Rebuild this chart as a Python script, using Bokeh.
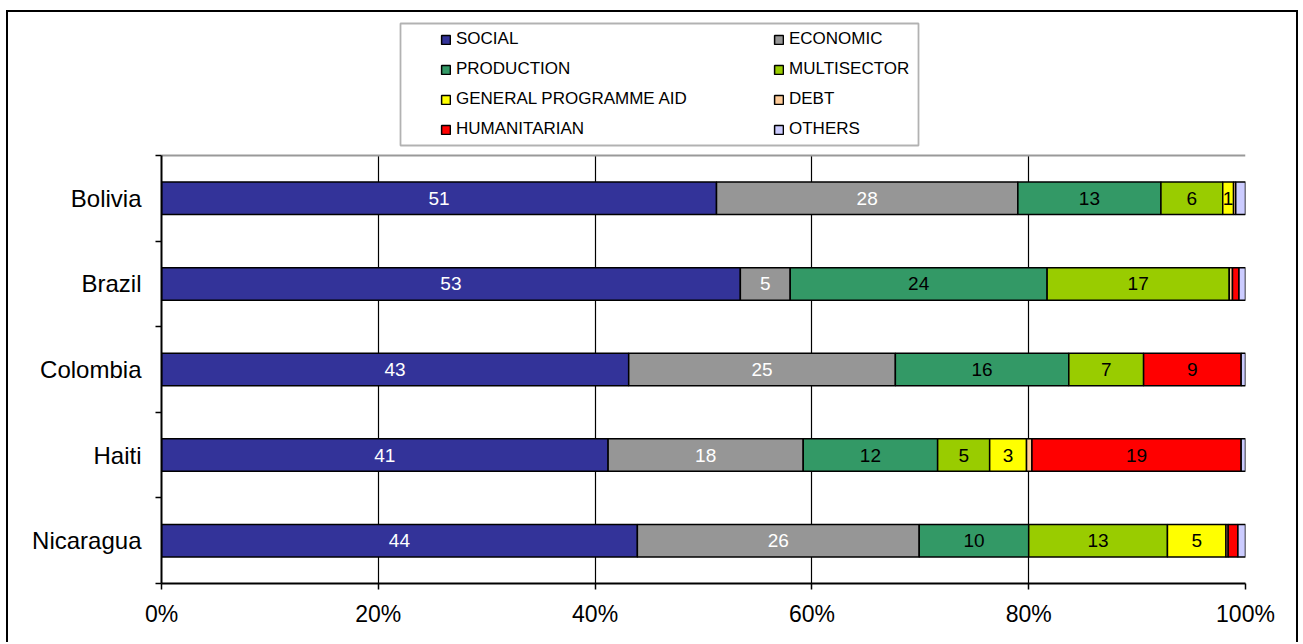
import numpy as np
from bokeh.plotting import figure
from bokeh.models import (ColumnDataSource, Range1d, FixedTicker, PrintfTickFormatter,
                          Legend, LegendItem, InlineStyleSheet, Grid, BoxAnnotation)
from bokeh.core.properties import value
from bokeh.embed import file_html
from bokeh.resources import INLINE

# ---------------- data ----------------
countries = ["Bolivia", "Brazil", "Colombia", "Haiti", "Nicaragua"]
sectors = ["SOCIAL", "ECONOMIC", "PRODUCTION", "MULTISECTOR",
           "GENERAL PROGRAMME AID", "DEBT", "HUMANITARIAN", "OTHERS"]
social = [51.2, 53.4, 43.1, 41.2, 43.9]
economic = [27.8, 4.6, 24.6, 18.0, 26.0]
production = [13.2, 23.7, 16.0, 12.4, 10.1]
multisector = [5.7, 16.8, 6.9, 4.8, 12.8]
general_programme_aid = [1.0, 0.0, 0.0, 3.4, 5.4]
debt = [0.2, 0.3, 0.0, 0.5, 0.2]
humanitarian = [0.0, 0.6, 9.0, 19.3, 0.9]
others = [0.9, 0.6, 0.4, 0.4, 0.7]
x_ticks = [0, 20, 40, 60, 80, 100]

series = [social, economic, production, multisector,
          general_programme_aid, debt, humanitarian, others]

# ---------------- styles / layout ----------------
colors = ["#333399", "#969696", "#339966", "#99CC00",
          "#FFFF00", "#FFCC99", "#FF0000", "#CCCCFF"]
label_colors = ["white", "white", "black", "black",
                "black", "black", "black", "black"]
FONT = "Liberation Sans"

W, H = 1300, 642
BORDER_L, BORDER_R, BORDER_T, BORDER_B = 161, 55, 14, 59
BAR_AREA_PX = 428                      # height of the bar area in pixels
n = len(countries)
frame_h = H - BORDER_T - BORDER_B
y_top = n * frame_h / BAR_AREA_PX      # extra room above the bars for the legend
ys = np.array([n - 1 - i + 0.5 for i in range(n)])

p = figure(width=W, height=H, output_backend="svg", toolbar_location=None,
           x_range=Range1d(0, 100), y_range=Range1d(0, y_top),
           min_border_left=BORDER_L, min_border_right=BORDER_R,
           min_border_top=BORDER_T, min_border_bottom=BORDER_B)
p.background_fill_color = "white"
p.border_fill_color = "white"
p.outline_line_color = None

# outer chart border (drawn by CSS around the figure area)
p.stylesheets = [InlineStyleSheet(css=(
    ":host { position: relative; }"
    ":host::after { content: ''; position: absolute; left: 6px; top: 10px; "
    "right: 2px; bottom: 0px; border: 2px solid black; border-bottom: none; "
    "pointer-events: none; box-sizing: border-box; }"))]

cum = np.zeros(n)
renderers = []
lx, ly, lt, lc = [], [], [], []
for s, vals, col, tcol in zip(sectors, series, colors, label_colors):
    v = np.array(vals, dtype=float)
    left = cum.copy()
    right = cum + v
    mask = v > 0
    src = ColumnDataSource(dict(y=ys[mask], left=left[mask], right=right[mask]))
    r = p.hbar(y="y", left="left", right="right", height=0.38, source=src,
               fill_color=col, line_color="black", line_width=1.5)
    renderers.append(r)
    for i in range(n):
        if v[i] >= 1.0:
            lx.append((left[i] + right[i]) / 2)
            ly.append(ys[i])
            lt.append(str(int(round(v[i]))))
            lc.append(tcol)
    cum = right

lsrc = ColumnDataSource(dict(x=lx, y=ly, text=lt, color=lc))
p.text(x="x", y="y", text="text", text_color="color", source=lsrc,
       text_align="center", text_baseline="middle",
       text_font=value(FONT), text_font_size="19px")

# ---------------- axes ----------------
xa = p.xaxis[0]
xa.ticker = FixedTicker(ticks=x_ticks)
xa.formatter = PrintfTickFormatter(format="%d%%")
xa.major_tick_out = 6
xa.major_tick_in = 0
xa.minor_tick_line_color = None
xa.axis_line_color = "black"
xa.axis_line_width = 2
xa.major_tick_line_color = "black"
xa.major_tick_line_width = 1.5
xa.major_label_text_font = FONT
xa.major_label_text_font_size = "23px"
xa.major_label_text_color = "black"
xa.major_label_standoff = 11

ya = p.yaxis[0]
ya.bounds = (0, n)
ya.ticker = FixedTicker(ticks=list(ys), minor_ticks=list(range(n + 1)))
ya.major_label_overrides = {float(y): c for y, c in zip(ys, countries)}
ya.major_tick_line_color = None
ya.major_tick_out = 0
ya.major_tick_in = 0
ya.minor_tick_out = 6
ya.minor_tick_in = 0
ya.minor_tick_line_color = "black"
ya.minor_tick_line_width = 1.5
ya.axis_line_color = "black"
ya.axis_line_width = 2
ya.major_label_text_font = FONT
ya.major_label_text_font_size = "24px"
ya.major_label_text_color = "black"
ya.major_label_standoff = 14

has_cb = "cross_bounds" in Grid.properties()

xg = p.xgrid[0]
xg.ticker = FixedTicker(ticks=x_ticks[1:-1])
xg.grid_line_color = "black"
xg.grid_line_width = 1.2
yg = p.ygrid[0]
yg.ticker = FixedTicker(ticks=[n])
yg.grid_line_color = "#999999"
yg.grid_line_width = 2
right_edge = Grid(dimension=0, ticker=FixedTicker(ticks=[x_ticks[-1]]),
                  grid_line_color="#999999", grid_line_width=2)
p.add_layout(right_edge)
if has_cb:
    xg.cross_bounds = (0, n)
    right_edge.cross_bounds = (0, n)
    yg.cross_bounds = (0, 100)
else:
    p.quad(left=[0], right=[100], bottom=[n + 0.02], top=[y_top],
           fill_color="white", line_color=None)

# ---------------- legend ----------------
legend_box = BoxAnnotation(left=400, right=918, top=23, bottom=145,
                           left_units="canvas", right_units="canvas",
                           top_units="canvas", bottom_units="canvas",
                           fill_color="white", fill_alpha=1,
                           line_color="black", line_width=1.8)
p.add_layout(legend_box)

legend = Legend(items=[LegendItem(label=s, renderers=[r]) for s, r in zip(sectors, renderers)],
                orientation="horizontal", ncols=2, location=(279, 444),
                label_text_font=FONT, label_text_font_size="17px",
                label_text_color="black",
                glyph_width=11, glyph_height=11, label_standoff=5,
                label_width=307, label_height=20, spacing=10, padding=6,
                border_line_color=None, background_fill_alpha=0)
p.add_layout(legend, "center")

open("out.html", "w").write(file_html(p, INLINE))
